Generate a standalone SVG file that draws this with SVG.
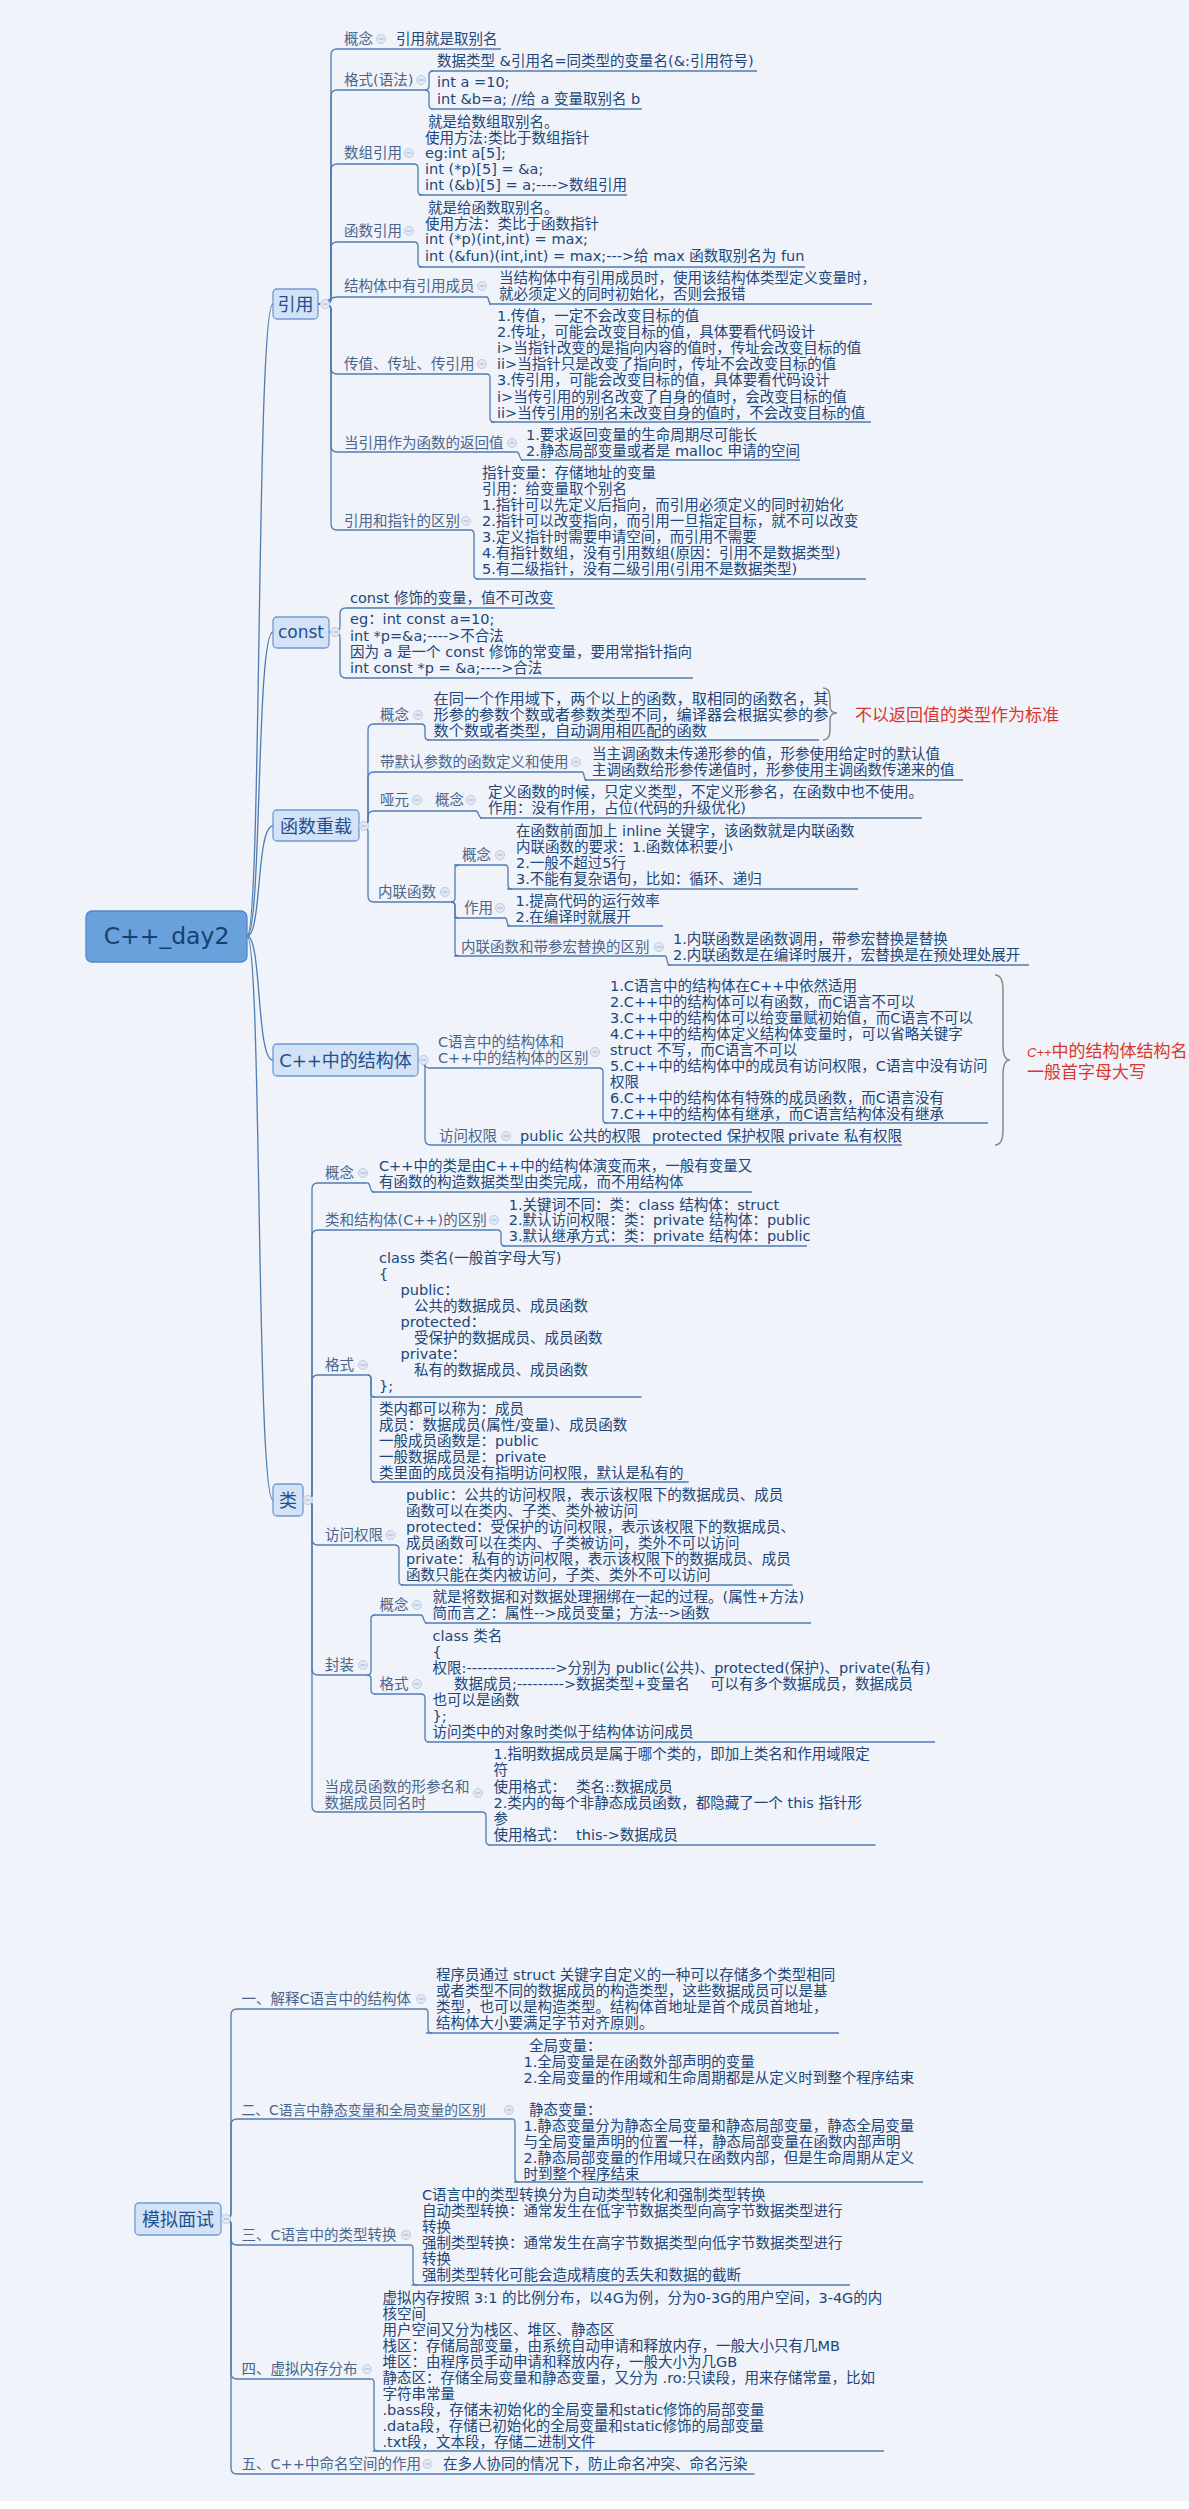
<svg xmlns="http://www.w3.org/2000/svg" width="1189" height="2509" viewBox="0 0 1189 2509">
<defs>
<style>
text{font-family:"DejaVu Sans","Noto Sans CJK SC",sans-serif;font-size:14.5px}
.lb{fill:#4a658c}
.tx{fill:#21467a}
.ul{stroke:#4f7cb3;stroke-width:1.3;fill:none}
#connectors path{stroke:#4f7cb3;stroke-width:1.3;fill:none}
.n1 rect{fill:#d3e2f6;stroke:#6f9bd2;stroke-width:1.3}
.n1 text{font-size:18px;fill:#23508c;text-anchor:middle}
.red{fill:#d8372f;font-size:17px}
.br{stroke:#8a8a8a;stroke-width:1.5;fill:none}
</style>
<g id="tg"><circle r="4.5" fill="#e3e9f4" stroke="#bccbe2" stroke-width="1"/><path d="M-2.5,0H2.5" stroke="#9fb3d4" stroke-width="1"/></g>
</defs>
<rect x="0" y="0" width="1189" height="2501" fill="#f0f3f9"/>
<rect x="0" y="2501" width="1189" height="8" fill="#ffffff"/>

<g id="connectors">
<path d="M247,936 C262,936 256,304 273,304"/>
<path d="M247,936 C262,936 256,632 273,632"/>
<path d="M247,936 C262,936 256,826 273,826"/>
<path d="M247,936 C262,936 256,1060 273,1060"/>
<path d="M247,936 C262,936 256,1500 273,1500"/>
<path d="M318,304H325Q331,304 331,298V55Q331,49 337,49"/>
<path d="M318,304H325Q331,304 331,298V96Q331,90 337,90"/>
<path d="M318,304H325Q331,304 331,298V170Q331,164 337,164"/>
<path d="M318,304H325Q331,304 331,298V248Q331,242 337,242"/>
<path d="M318,304C328,304 328,297 337,297"/>
<path d="M318,304H325Q331,304 331,310V368Q331,374 337,374"/>
<path d="M318,304H325Q331,304 331,310V446Q331,452 337,452"/>
<path d="M318,304H325Q331,304 331,310V524Q331,530 337,530"/>
<path d="M425,90Q429,90 429,86V75Q429,71 433,71"/>
<path d="M425,90Q429,90 429,94V105Q429,109 433,109"/>
<path d="M414,164Q418,164 418,168V191Q418,195 422,195"/>
<path d="M414,242Q418,242 418,246V263Q418,267 422,267"/>
<path d="M487,297C489,297 488,304 491,304"/>
<path d="M487,374Q490,374 490,378V418Q490,422 494,422"/>
<path d="M517,452C520,452 519,460 523,460"/>
<path d="M470,530Q474,530 474,534V575Q474,579 478,579"/>
<path d="M329,632H334Q340,632 340,626V614Q340,608 346,608"/>
<path d="M329,632H334Q340,632 340,638V672Q340,678 346,678"/>
<path d="M359,826H362Q368,826 368,820V730Q368,724 374,724"/>
<path d="M359,826H362Q368,826 368,820V778Q368,772 374,772"/>
<path d="M359,826H362Q368,826 368,820V817Q368,811 374,811"/>
<path d="M359,826H362Q368,826 368,832V896Q368,902 374,902"/>
<path d="M421,724Q425,724 425,728V736Q425,740 429,740"/>
<path d="M582,772C585,772 583,780 587,780"/>
<path d="M476,811C479,811 478,818 482,818"/>
<path d="M451,902Q455,902 455,898V869Q455,865 459,865"/>
<path d="M451,902Q455,902 455,906V914Q455,918 459,918"/>
<path d="M451,902Q455,902 455,906V952Q455,956 459,956"/>
<path d="M505,865Q508,865 508,869V885Q508,889 512,889"/>
<path d="M505,918C508,918 506,926 510,926"/>
<path d="M665,956C668,956 666,965 670,965"/>
<path d="M418,1060C424,1060 423,1068 429,1068"/>
<path d="M418,1060H419Q425,1060 425,1066V1139Q425,1145 431,1145H432"/>
<path d="M599,1068Q603,1068 603,1072V1119Q603,1123 607,1123"/>
<path d="M303,1500H306Q312,1500 312,1494V1189Q312,1183 318,1183"/>
<path d="M303,1500H306Q312,1500 312,1494V1236Q312,1230 318,1230"/>
<path d="M303,1500H306Q312,1500 312,1494V1381Q312,1375 318,1375"/>
<path d="M303,1500H306Q312,1500 312,1506V1539Q312,1545 318,1545"/>
<path d="M303,1500H306Q312,1500 312,1506V1669Q312,1675 318,1675"/>
<path d="M303,1500H306Q312,1500 312,1506V1806Q312,1812 318,1812"/>
<path d="M367.6,1183C371,1183 369,1192 374,1192"/>
<path d="M497.5,1230Q501,1230 501,1234V1242Q501,1246 505,1246"/>
<path d="M367.6,1375Q371,1375 371,1379V1393Q371,1397 375,1397"/>
<path d="M367.6,1375Q371,1375 371,1379V1478Q371,1482 375,1482"/>
<path d="M394.7,1545Q399,1545 399,1549V1581Q399,1585 403,1585"/>
<path d="M367,1675Q371,1675 371,1671V1619Q371,1615 375,1615"/>
<path d="M367,1675Q371,1675 371,1679V1690Q371,1694 375,1694"/>
<path d="M421,1615C424,1615 423,1623 427,1623"/>
<path d="M421,1694Q425,1694 425,1698V1738Q425,1742 429,1742"/>
<path d="M482,1812Q486,1812 486,1816V1841Q486,1845 490,1845"/>
<path d="M221,2219H225Q231,2219 231,2213V2015Q231,2009 237,2009"/>
<path d="M221,2219H225Q231,2219 231,2213V2125Q231,2119 237,2119"/>
<path d="M221,2219H225Q231,2219 231,2225V2239Q231,2245 237,2245"/>
<path d="M221,2219H225Q231,2219 231,2225V2373Q231,2379 237,2379"/>
<path d="M221,2219H225Q231,2219 231,2225V2468Q231,2474 237,2474"/>
<path d="M425,2009Q428,2009 428,2013V2029Q428,2033 432,2033"/>
<path d="M512.5,2119Q515,2119 515,2123V2178Q515,2182 519,2182"/>
<path d="M410,2245Q413,2245 413,2249V2281Q413,2285 417,2285"/>
<path d="M371.5,2379Q374,2379 374,2383V2447Q374,2451 378,2451"/>
</g>

<g id="n-center">
<rect x="86" y="911" width="161" height="51" rx="6" fill="#69a1dc" stroke="#5187c7" stroke-width="1.3"/>
<text x="166.5" y="944" text-anchor="middle" style="font-family:'DejaVu Sans',sans-serif;font-size:23.5px;fill:#17406f">C++_day2</text>
</g>

<g id="n-yinyong" class="n1"><rect x="273" y="289" width="45" height="30" rx="4"/><text x="295.5" y="310.5">引用</text><use href="#tg" x="325" y="304"/></g>
<g id="n-yy-gainian"><text class="lb" x="344" y="44">概念</text><use href="#tg" x="381" y="39"/><text class="tx" x="396" y="44">引用就是取别名</text><path class="ul" d="M337,49H501"/></g>
<g id="n-yy-geshi"><text class="lb" x="344" y="85">格式(语法)</text><use href="#tg" x="421" y="80"/><path class="ul" d="M337,90H425"/></g>
<g id="n-yy-geshi-1"><text class="tx" x="437" y="66">数据类型 &amp;引用名=同类型的变量名(&amp;:引用符号)</text><path class="ul" d="M431,71H757"/></g>
<g id="n-yy-geshi-2"><text class="tx"><tspan x="437" y="87">int a =10;</tspan><tspan x="437" y="104">int &amp;b=a; //给 a 变量取别名 b</tspan></text><path class="ul" d="M431,109H642"/></g>
<g id="n-yy-shuzu"><text class="lb" x="344" y="158">数组引用</text><use href="#tg" x="409" y="153"/><path class="ul" d="M337,164H414"/>
<text class="tx"><tspan x="428" y="127">就是给数组取别名。</tspan><tspan x="425" y="143">使用方法:类比于数组指针</tspan><tspan x="425" y="158">eg:int a[5];</tspan><tspan x="425" y="174">int (*p)[5] = &amp;a;</tspan><tspan x="425" y="190">int (&amp;b)[5] = a;----&gt;数组引用</tspan></text><path class="ul" d="M419,195H627"/></g>
<g id="n-yy-hanshu"><text class="lb" x="344" y="236">函数引用</text><use href="#tg" x="409" y="231"/><path class="ul" d="M337,242H414"/>
<text class="tx"><tspan x="428" y="213">就是给函数取别名。</tspan><tspan x="425" y="229">使用方法：类比于函数指针</tspan><tspan x="425" y="244">int (*p)(int,int) = max;</tspan><tspan x="425" y="261">int (&amp;fun)(int,int) = max;---&gt;给 max 函数取别名为 fun</tspan></text><path class="ul" d="M419,267H805"/></g>
<g id="n-yy-jiegouti"><text class="lb" x="344" y="291">结构体中有引用成员</text><use href="#tg" x="482" y="286"/><path class="ul" d="M337,297H487"/>
<text class="tx"><tspan x="499" y="283">当结构体中有引用成员时，使用该结构体类型定义变量时，</tspan><tspan x="499" y="299">就必须定义的同时初始化，否则会报错</tspan></text><path class="ul" d="M489,304H872"/></g>
<g id="n-yy-chuanzhi"><text class="lb" x="344" y="369">传值、传址、传引用</text><use href="#tg" x="482" y="364"/><path class="ul" d="M337,374H487"/>
<text class="tx"><tspan x="497" y="321">1.传值，一定不会改变目标的值</tspan><tspan x="497" y="337">2.传址，可能会改变目标的值，具体要看代码设计</tspan><tspan x="497" y="353">i&gt;当指针改变的是指向内容的值时，传址会改变目标的值</tspan><tspan x="497" y="369">ii&gt;当指针只是改变了指向时，传址不会改变目标的值</tspan><tspan x="497" y="385">3.传引用，可能会改变目标的值，具体要看代码设计</tspan><tspan x="497" y="402">i&gt;当传引用的别名改变了自身的值时，会改变目标的值</tspan><tspan x="497" y="418">ii&gt;当传引用的别名未改变自身的值时，不会改变目标的值</tspan></text><path class="ul" d="M491,422H871"/></g>
<g id="n-yy-fanhui"><text class="lb" x="344" y="448">当引用作为函数的返回值</text><use href="#tg" x="512" y="443"/><path class="ul" d="M337,452H517"/>
<text class="tx"><tspan x="526" y="440">1.要求返回变量的生命周期尽可能长</tspan><tspan x="526" y="456">2.静态局部变量或者是 malloc 申请的空间</tspan></text><path class="ul" d="M521,460H800"/></g>
<g id="n-yy-qubie"><text class="lb" x="344" y="526">引用和指针的区别</text><use href="#tg" x="466" y="521"/><path class="ul" d="M337,530H470"/>
<text class="tx"><tspan x="482" y="478">指针变量：存储地址的变量</tspan><tspan x="482" y="494">引用：给变量取个别名</tspan><tspan x="482" y="510">1.指针可以先定义后指向，而引用必须定义的同时初始化</tspan><tspan x="482" y="526">2.指针可以改变指向，而引用一旦指定目标，就不可以改变</tspan><tspan x="482" y="542">3.定义指针时需要申请空间，而引用不需要</tspan><tspan x="482" y="558">4.有指针数组，没有引用数组(原因：引用不是数据类型)</tspan><tspan x="482" y="574">5.有二级指针，没有二级引用(引用不是数据类型)</tspan></text><path class="ul" d="M476,579H866"/></g>

<g id="n-const" class="n1"><rect x="273" y="617" width="56" height="31" rx="4"/><text x="301" y="638" style="font-size:17px">const</text><use href="#tg" x="335" y="632"/></g>
<g id="n-const-1"><text class="tx" x="350" y="603">const 修饰的变量，值不可改变</text><path class="ul" d="M346,608H555"/></g>
<g id="n-const-2"><text class="tx"><tspan x="350" y="624">eg：int const a=10;</tspan><tspan x="350" y="641">int *p=&amp;a;----&gt;不合法</tspan><tspan x="350" y="657">因为 a 是一个 const 修饰的常变量，要用常指针指向</tspan><tspan x="350" y="673">int const *p = &amp;a;----&gt;合法</tspan></text><path class="ul" d="M346,678H693"/></g>

<g id="n-overload" class="n1"><rect x="273" y="810" width="86" height="31" rx="4"/><text x="316" y="832.5">函数重载</text><use href="#tg" x="364" y="826"/></g>
<g id="n-ol-gainian"><text class="lb" x="380" y="720">概念</text><use href="#tg" x="418" y="715"/><path class="ul" d="M374,724H421"/>
<text class="tx" style="font-size:15.2px"><tspan x="433.5" y="704">在同一个作用域下，两个以上的函数，取相同的函数名，其</tspan><tspan x="433.5" y="720">形参的参数个数或者参数类型不同，编译器会根据实参的参</tspan><tspan x="433.5" y="736">数个数或者类型，自动调用相匹配的函数</tspan></text><path class="ul" d="M427,740H819"/>
<path class="br" d="M823,688Q830,688 830,698V706Q830,713 837,713Q830,713 830,720V730Q830,740 823,740"/>
<text class="red" x="855" y="721">不以返回值的类型作为标准</text></g>
<g id="n-ol-moren"><text class="lb" x="380" y="767">带默认参数的函数定义和使用</text><use href="#tg" x="576" y="762"/><path class="ul" d="M374,772H582"/>
<text class="tx"><tspan x="592" y="759">当主调函数未传递形参的值，形参使用给定时的默认值</tspan><tspan x="592" y="775">主调函数给形参传递值时，形参使用主调函数传递来的值</tspan></text><path class="ul" d="M584.5,780H963"/></g>
<g id="n-ol-yayuan"><text class="lb" x="380" y="805">哑元</text><use href="#tg" x="417" y="800"/><text class="lb" x="435" y="805">概念</text><use href="#tg" x="471" y="800"/><path class="ul" d="M374,811H476"/>
<text class="tx"><tspan x="488" y="797">定义函数的时候，只定义类型，不定义形参名，在函数中也不使用。</tspan><tspan x="488" y="813">作用：没有作用，占位(代码的升级优化)</tspan></text><path class="ul" d="M480,818H922"/></g>
<g id="n-ol-inline"><text class="lb" x="378" y="897">内联函数</text><use href="#tg" x="445" y="892"/><path class="ul" d="M374,902H451"/></g>
<g id="n-inl-gainian"><text class="lb" x="462" y="860">概念</text><use href="#tg" x="500" y="855"/><path class="ul" d="M454,865H505"/>
<text class="tx"><tspan x="516" y="836">在函数前面加上 inline 关键字，该函数就是内联函数</tspan><tspan x="516" y="852">内联函数的要求：1.函数体积要小</tspan><tspan x="516" y="868">2.一般不超过5行</tspan><tspan x="516" y="884">3.不能有复杂语句，比如：循环、递归</tspan></text><path class="ul" d="M507,889H858"/></g>
<g id="n-inl-zuoyong"><text class="lb" x="464" y="913">作用</text><use href="#tg" x="500" y="908"/><path class="ul" d="M454,918H505"/>
<text class="tx"><tspan x="515.5" y="906">1.提高代码的运行效率</tspan><tspan x="515.5" y="922">2.在编译时就展开</tspan></text><path class="ul" d="M507,926H663"/></g>
<g id="n-inl-qubie"><text class="lb" x="461" y="952">内联函数和带参宏替换的区别</text><use href="#tg" x="659" y="947"/><path class="ul" d="M454,956H665"/>
<text class="tx"><tspan x="673" y="944">1.内联函数是函数调用，带参宏替换是替换</tspan><tspan x="673" y="960">2.内联函数是在编译时展开，宏替换是在预处理处展开</tspan></text><path class="ul" d="M667.6,965H1029"/></g>

<g id="n-struct" class="n1"><rect x="273" y="1044" width="145" height="32" rx="4"/><text x="345.5" y="1066.5">C++中的结构体</text><use href="#tg" x="423.6" y="1060"/></g>
<g id="n-st-qubie"><text class="lb"><tspan x="438" y="1047">C语言中的结构体和</tspan><tspan x="438" y="1063">C++中的结构体的区别</tspan></text><use href="#tg" x="595" y="1052"/><path class="ul" d="M429,1068H599"/>
<text class="tx"><tspan x="610" y="991">1.C语言中的结构体在C++中依然适用</tspan><tspan x="610" y="1007">2.C++中的结构体可以有函数，而C语言不可以</tspan><tspan x="610" y="1023">3.C++中的结构体可以给变量赋初始值，而C语言不可以</tspan><tspan x="610" y="1039">4.C++中的结构体定义结构体变量时，可以省略关键字</tspan><tspan x="610" y="1055">struct 不写，而C语言不可以</tspan><tspan x="610" y="1071">5.C++中的结构体中的成员有访问权限，C语言中没有访问</tspan><tspan x="610" y="1087">权限</tspan><tspan x="610" y="1103">6.C++中的结构体有特殊的成员函数，而C语言没有</tspan><tspan x="610" y="1119">7.C++中的结构体有继承，而C语言结构体没有继承</tspan></text><path class="ul" d="M604,1123H988"/></g>
<g id="n-st-quanxian"><text class="lb" x="439" y="1141">访问权限</text><use href="#tg" x="506" y="1136"/>
<text class="tx"><tspan x="520" y="1141">public 公共的权限</tspan><tspan x="652" y="1141">protected 保护权限</tspan><tspan x="788" y="1141">private 私有权限</tspan></text><path class="ul" d="M432,1145H902"/></g>
<g id="n-st-note"><path class="br" d="M995,975Q1003,975 1003,990V1045Q1003,1060 1010,1060Q1003,1060 1003,1075V1130Q1003,1145 995,1145"/>
<text class="red"><tspan x="1027" y="1057" style="font-family:'Liberation Sans',sans-serif;font-size:13px;font-style:italic">C++</tspan><tspan>中的结构体结构名</tspan><tspan x="1027" y="1078">一般首字母大写</tspan></text></g>

<g id="n-class" class="n1"><rect x="273" y="1484" width="30" height="32" rx="4"/><text x="288" y="1506.5">类</text><use href="#tg" x="308" y="1500"/></g>
<g id="n-cl-gainian"><text class="lb" x="325" y="1178">概念</text><use href="#tg" x="363" y="1173"/><path class="ul" d="M318,1183H367.6"/>
<text class="tx"><tspan x="379" y="1171">C++中的类是由C++中的结构体演变而来，一般有变量又</tspan><tspan x="379" y="1187">有函数的构造数据类型由类完成，而不用结构体</tspan></text><path class="ul" d="M372,1192H752"/></g>
<g id="n-cl-qubie"><text class="lb" x="325" y="1225">类和结构体(C++)的区别</text><use href="#tg" x="494" y="1220"/><path class="ul" d="M318,1230H497.5"/>
<text class="tx"><tspan x="508.7" y="1210">1.关键词不同：类：class 结构体：struct</tspan><tspan x="508.7" y="1225">2.默认访问权限：类：private 结构体：public</tspan><tspan x="508.7" y="1241">3.默认继承方式：类：private 结构体：public</tspan></text><path class="ul" d="M502,1246H807"/></g>
<g id="n-cl-geshi"><text class="lb" x="325" y="1370">格式</text><use href="#tg" x="363" y="1365"/><path class="ul" d="M318,1375H367.6"/></g>
<g id="n-cl-geshi-1"><text class="tx"><tspan x="379" y="1263">class 类名(一般首字母大写)</tspan><tspan x="379" y="1279">{</tspan><tspan x="400.6" y="1295">public：</tspan><tspan x="414" y="1311">公共的数据成员、成员函数</tspan><tspan x="400.6" y="1327">protected：</tspan><tspan x="414" y="1343">受保护的数据成员、成员函数</tspan><tspan x="400.6" y="1359">private：</tspan><tspan x="414" y="1375">私有的数据成员、成员函数</tspan><tspan x="379" y="1391">};</tspan></text><path class="ul" d="M372,1397H641.5"/></g>
<g id="n-cl-geshi-2"><text class="tx"><tspan x="379" y="1414">类内都可以称为：成员</tspan><tspan x="379" y="1430">成员：数据成员(属性/变量)、成员函数</tspan><tspan x="379" y="1446">一般成员函数是：public</tspan><tspan x="379" y="1462">一般数据成员是：private</tspan><tspan x="379" y="1478">类里面的成员没有指明访问权限，默认是私有的</tspan></text><path class="ul" d="M372,1482H688.6"/></g>
<g id="n-cl-quanxian"><text class="lb" x="325" y="1540">访问权限</text><use href="#tg" x="390.6" y="1535"/><path class="ul" d="M318,1545H394.7"/>
<text class="tx"><tspan x="406" y="1500">public：公共的访问权限，表示该权限下的数据成员、成员</tspan><tspan x="406" y="1516">函数可以在类内、子类、类外被访问</tspan><tspan x="406" y="1532">protected：受保护的访问权限，表示该权限下的数据成员、</tspan><tspan x="406" y="1548">成员函数可以在类内、子类被访问，类外不可以访问</tspan><tspan x="406" y="1564">private：私有的访问权限，表示该权限下的数据成员、成员</tspan><tspan x="406" y="1580">函数只能在类内被访问，子类、类外不可以访问</tspan></text><path class="ul" d="M401,1585H792.6"/></g>
<g id="n-cl-fengzhuang"><text class="lb" x="325" y="1670">封装</text><use href="#tg" x="363" y="1665"/><path class="ul" d="M318,1675H367"/></g>
<g id="n-fz-gainian"><text class="lb" x="379.6" y="1610">概念</text><use href="#tg" x="417" y="1605"/><path class="ul" d="M374,1615H421"/>
<text class="tx"><tspan x="432.6" y="1602">就是将数据和对数据处理捆绑在一起的过程。(属性+方法)</tspan><tspan x="432.6" y="1618">简而言之：属性--&gt;成员变量；方法--&gt;函数</tspan></text><path class="ul" d="M425,1623H811"/></g>
<g id="n-fz-geshi"><text class="lb" x="379.6" y="1689">格式</text><use href="#tg" x="417" y="1684"/><path class="ul" d="M374,1694H421"/>
<text class="tx"><tspan x="432.6" y="1641">class 类名</tspan><tspan x="432.6" y="1657">{</tspan><tspan x="432.6" y="1673">权限:-----------------&gt;分别为 public(公共)、protected(保护)、private(私有)</tspan><tspan x="454" y="1689">数据成员;---------&gt;数据类型+变量名</tspan><tspan x="710" y="1689">可以有多个数据成员，数据成员</tspan><tspan x="432.6" y="1705">也可以是函数</tspan><tspan x="432.6" y="1721">};</tspan><tspan x="432.6" y="1737">访问类中的对象时类似于结构体访问成员</tspan></text><path class="ul" d="M427,1742H935"/></g>
<g id="n-cl-tongming"><text class="lb"><tspan x="324.5" y="1792">当成员函数的形参名和</tspan><tspan x="324.5" y="1808">数据成员同名时</tspan></text><use href="#tg" x="478" y="1793"/><path class="ul" d="M318,1812H482"/>
<text class="tx"><tspan x="493.5" y="1759">1.指明数据成员是属于哪个类的，即加上类名和作用域限定</tspan><tspan x="493.5" y="1775">符</tspan><tspan x="493.5" y="1792">使用格式：</tspan><tspan x="576" y="1792">类名::数据成员</tspan><tspan x="493.5" y="1808">2.类内的每个非静态成员函数，都隐藏了一个 this 指针形</tspan><tspan x="493.5" y="1824">参</tspan><tspan x="493.5" y="1840">使用格式：</tspan><tspan x="576" y="1840">this-&gt;数据成员</tspan></text><path class="ul" d="M488.6,1845H875.5"/></g>

<g id="n-interview" class="n1"><rect x="135" y="2203" width="86" height="32" rx="4"/><text x="178" y="2225.5">模拟面试</text><use href="#tg" x="226" y="2219"/></g>
<g id="n-iv-1"><text class="lb" x="241.5" y="2004">一、解释C语言中的结构体</text><use href="#tg" x="421" y="1999"/><path class="ul" d="M237,2009H425"/>
<text class="tx"><tspan x="436" y="1980">程序员通过 struct 关键字自定义的一种可以存储多个类型相同</tspan><tspan x="436" y="1996">或者类型不同的数据成员的构造类型，这些数据成员可以是基</tspan><tspan x="436" y="2012">类型，也可以是构造类型。结构体首地址是首个成员首地址，</tspan><tspan x="436" y="2028">结构体大小要满足字节对齐原则。</tspan></text><path class="ul" d="M426,2033H839"/></g>
<g id="n-iv-2"><text class="lb" x="241.5" y="2115" style="font-size:13.8px">二、C语言中静态变量和全局变量的区别</text><use href="#tg" x="509" y="2110"/><path class="ul" d="M237,2119H512.5"/>
<text class="tx"><tspan x="529" y="2051">全局变量：</tspan><tspan x="523.5" y="2067">1.全局变量是在函数外部声明的变量</tspan><tspan x="523.5" y="2083">2.全局变量的作用域和生命周期都是从定义时到整个程序结束</tspan><tspan x="529" y="2115">静态变量：</tspan><tspan x="523.5" y="2131">1.静态变量分为静态全局变量和静态局部变量，静态全局变量</tspan><tspan x="523.5" y="2147">与全局变量声明的位置一样，静态局部变量在函数内部声明</tspan><tspan x="523.5" y="2163">2.静态局部变量的作用域只在函数内部，但是生命周期从定义</tspan><tspan x="523.5" y="2179">时到整个程序结束</tspan></text><path class="ul" d="M514,2182H923"/></g>
<g id="n-iv-3"><text class="lb" x="241.5" y="2240">三、C语言中的类型转换</text><use href="#tg" x="406" y="2235"/><path class="ul" d="M237,2245H410"/>
<text class="tx"><tspan x="422" y="2200">C语言中的类型转换分为自动类型转化和强制类型转换</tspan><tspan x="422" y="2216">自动类型转换：通常发生在低字节数据类型向高字节数据类型进行</tspan><tspan x="422" y="2232">转换</tspan><tspan x="422" y="2248">强制类型转换：通常发生在高字节数据类型向低字节数据类型进行</tspan><tspan x="422" y="2264">转换</tspan><tspan x="422" y="2280">强制类型转化可能会造成精度的丢失和数据的截断</tspan></text><path class="ul" d="M411.6,2285H850"/></g>
<g id="n-iv-4"><text class="lb" x="241.5" y="2374">四、虚拟内存分布</text><use href="#tg" x="367" y="2369"/><path class="ul" d="M237,2379H371.5"/>
<text class="tx"><tspan x="382.5" y="2303">虚拟内存按照 3:1 的比例分布，以4G为例，分为0-3G的用户空间，3-4G的内</tspan><tspan x="382.5" y="2319">核空间</tspan><tspan x="382.5" y="2335">用户空间又分为栈区、堆区、静态区</tspan><tspan x="382.5" y="2351">栈区：存储局部变量，由系统自动申请和释放内存，一般大小只有几MB</tspan><tspan x="382.5" y="2367">堆区：由程序员手动申请和释放内存，一般大小为几GB</tspan><tspan x="382.5" y="2383">静态区：存储全局变量和静态变量，又分为 .ro:只读段，用来存储常量，比如</tspan><tspan x="382.5" y="2399">字符串常量</tspan><tspan x="382.5" y="2415">.bass段，存储未初始化的全局变量和static修饰的局部变量</tspan><tspan x="382.5" y="2431">.data段，存储已初始化的全局变量和static修饰的局部变量</tspan><tspan x="382.5" y="2447">.txt段，文本段，存储二进制文件</tspan></text><path class="ul" d="M372.6,2451H884"/></g>
<g id="n-iv-5"><text class="lb" x="241.5" y="2469">五、C++中命名空间的作用</text><use href="#tg" x="427.5" y="2464"/><text class="tx" x="443" y="2469">在多人协同的情况下，防止命名冲突、命名污染</text><path class="ul" d="M237,2474H754.5"/></g>
</svg>
